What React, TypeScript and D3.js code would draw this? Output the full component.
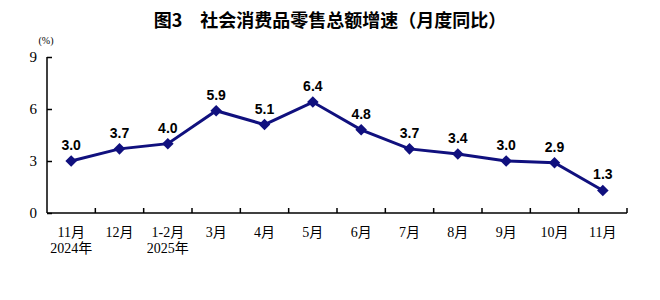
import { useEffect, useRef } from "react";
import * as d3 from "d3";

const months = ["11月", "12月", "1-2月", "3月", "4月", "5月", "6月", "7月", "8月", "9月", "10月", "11月"];
const years = ["2024年", "", "2025年", "", "", "", "", "", "", "", "", ""];
const growth = [3.0, 3.7, 4.0, 5.9, 5.1, 6.4, 4.8, 3.7, 3.4, 3.0, 2.9, 1.3];
const yTicks = [0, 3, 6, 9];

const serif = "'Liberation Serif', 'Noto Sans CJK SC', serif";
const sans = "'Liberation Sans', Arial, sans-serif";

const App = () => {
  const ref = useRef<SVGSVGElement>(null);

  useEffect(() => {
    if (!ref.current) return;
    const svg = d3.select(ref.current);
    svg.selectAll("*").remove();

    const left = 47;
    const right = 627;
    const top = 57;
    const bottom = 213;
    const navy = "#10107e";

    const x = d3.scaleBand<number>().domain(d3.range(months.length)).range([left, right]);
    const y = d3.scaleLinear().domain([0, 9]).range([bottom, top]);

    // title
    svg
      .append("text")
      .attr("x", 330)
      .attr("y", 27)
      .attr("text-anchor", "middle")
      .style("font-family", "'Noto Sans CJK SC', sans-serif")
      .style("font-size", "18px")
      .style("font-weight", "bold")
      .text("图3\u3000社会消费品零售总额增速（月度同比）");

    svg
      .append("text")
      .attr("x", 46)
      .attr("y", 44)
      .attr("text-anchor", "middle")
      .style("font-family", serif)
      .style("font-size", "10px")
      .text("(%)");

    // y axis
    const yAxis = svg
      .append("g")
      .attr("transform", `translate(${left},0)`)
      .call(d3.axisRight(y).tickValues(yTicks).tickSize(5).tickFormat(() => ""));
    yAxis.select(".domain").attr("d", `M0,${bottom}V${top}`).attr("stroke", "#000").attr("stroke-width", 1.5);
    yAxis.selectAll(".tick line").attr("stroke", "#000").attr("stroke-width", 1.5);

    svg
      .append("g")
      .selectAll("text")
      .data(yTicks)
      .enter()
      .append("text")
      .attr("x", 37)
      .attr("y", (d) => y(d) + 5)
      .attr("text-anchor", "end")
      .style("font-family", serif)
      .style("font-size", "15px")
      .text((d) => d);

    // x axis
    const boundaries = d3.range(months.length + 1).map((i) => left + i * x.bandwidth());
    svg
      .append("line")
      .attr("x1", left)
      .attr("x2", right)
      .attr("y1", bottom)
      .attr("y2", bottom)
      .attr("stroke", "#000")
      .attr("stroke-width", 1.5);
    svg
      .append("g")
      .selectAll("line")
      .data(boundaries.slice(1))
      .enter()
      .append("line")
      .attr("x1", (d) => d)
      .attr("x2", (d) => d)
      .attr("y1", bottom)
      .attr("y2", bottom - 5)
      .attr("stroke", "#000")
      .attr("stroke-width", 1.5);

    const cx = (i: number) => (x(i) ?? 0) + x.bandwidth() / 2;

    svg
      .append("g")
      .selectAll("text")
      .data(months)
      .enter()
      .append("text")
      .attr("x", (_, i) => cx(i))
      .attr("y", 237)
      .attr("text-anchor", "middle")
      .style("font-family", serif)
      .style("font-size", "14px")
      .text((d) => d);

    svg
      .append("g")
      .selectAll("text")
      .data(years)
      .enter()
      .append("text")
      .attr("x", (_, i) => cx(i))
      .attr("y", 253)
      .attr("text-anchor", "middle")
      .style("font-family", serif)
      .style("font-size", "14px")
      .text((d) => d);

    // line
    const line = d3
      .line<number>()
      .x((_, i) => cx(i))
      .y((d) => y(d));
    svg
      .append("path")
      .datum(growth)
      .attr("d", line)
      .attr("fill", "none")
      .attr("stroke", navy)
      .attr("stroke-width", 3);

    svg
      .append("g")
      .selectAll("path")
      .data(growth)
      .enter()
      .append("path")
      .attr("d", d3.symbol().type(d3.symbolDiamond2).size(85)())
      .attr("transform", (d, i) => `translate(${cx(i)},${y(d)})`)
      .attr("fill", navy);

    svg
      .append("g")
      .selectAll("text")
      .data(growth)
      .enter()
      .append("text")
      .attr("x", (_, i) => cx(i))
      .attr("y", (d) => y(d) - 11)
      .attr("text-anchor", "middle")
      .style("font-family", sans)
      .style("font-size", "14px")
      .style("font-weight", "bold")
      .text((d) => d.toFixed(1));
  }, []);

  return (
    <svg
      ref={ref}
      width={660}
      height={300}
      style={{ position: "absolute", left: 0, top: 0, background: "#fff" }}
    />
  );
};

export default App;
